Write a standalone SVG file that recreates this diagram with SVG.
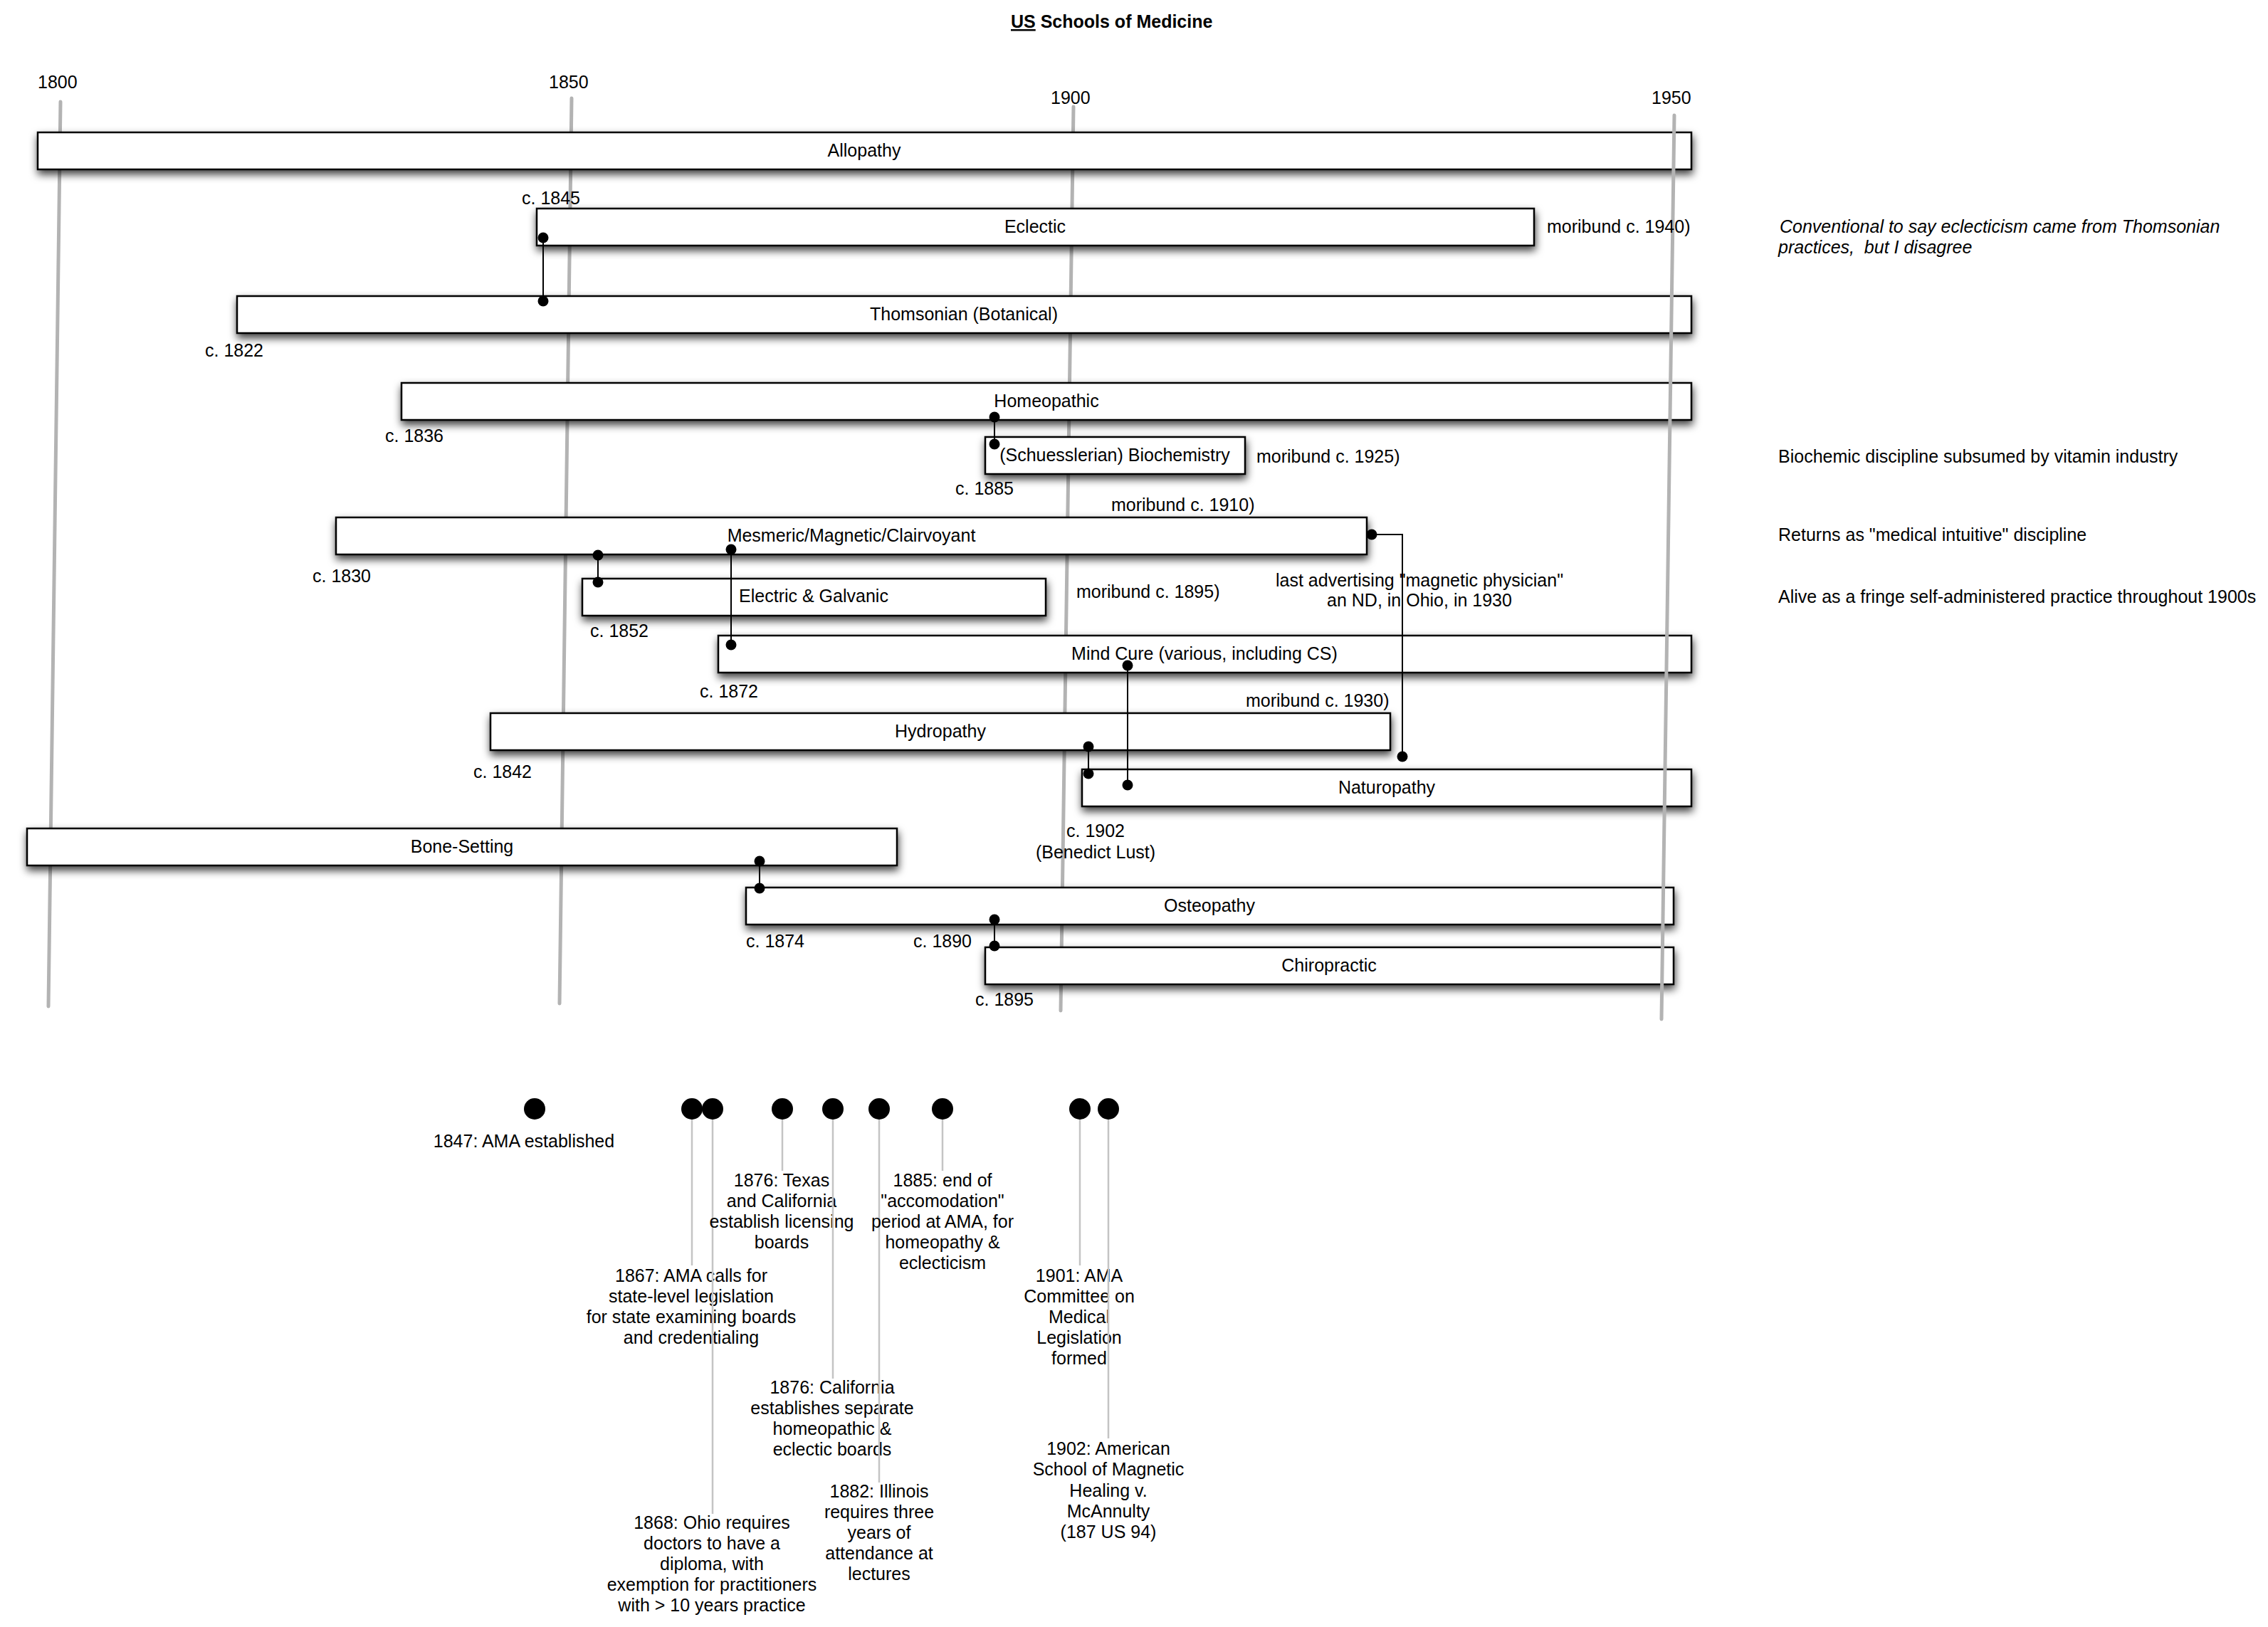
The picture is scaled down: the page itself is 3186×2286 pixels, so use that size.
<svg xmlns="http://www.w3.org/2000/svg" width="3186" height="2286" viewBox="0 0 3186 2286">
<defs>
<filter id="sh" x="-5%" y="-60%" width="110%" height="240%">
<feDropShadow dx="1" dy="6" stdDeviation="6" flood-color="#000" flood-opacity="0.75"/>
</filter>
<style>
.box{fill:#fff;stroke:#000;stroke-width:2.5;filter:url(#sh)}
.t{font-family:"Liberation Sans",Arial,Helvetica,sans-serif;font-size:25px;fill:#000}
.c{text-anchor:middle}
.i{font-style:italic}
.axis{stroke:#b3b3b3;stroke-width:5;stroke-linecap:round;fill:none}
.conn{stroke:#000;stroke-width:2;fill:none}
.dot{fill:#000}
.ev{stroke:#c4c4c4;stroke-width:2.5;fill:none}
</style>
</defs>
<rect x="0" y="0" width="3186" height="2286" fill="#fff"/>

<g id="title">
<text class="t" x="1420" y="39" font-weight="bold"><tspan text-decoration="underline">US</tspan> Schools of Medicine</text>
</g>

<g id="axis">
<line class="axis" x1="85" y1="143" x2="68" y2="1414"/>
<line class="axis" x1="803" y1="138" x2="786" y2="1410"/>
<line class="axis" x1="1508" y1="150" x2="1490" y2="1420"/>
<text class="t" x="53" y="124">1800</text>
<text class="t" x="771" y="124">1850</text>
<text class="t" x="1476" y="146">1900</text>
<text class="t" x="2320" y="146">1950</text>
</g>

<g id="n-allopathy"><rect class="box" x="53" y="186" width="2323" height="52"/><text class="t c" x="1214" y="220">Allopathy</text></g>
<g id="n-eclectic"><rect class="box" x="754" y="293" width="1401" height="52"/><text class="t c" x="1454" y="327">Eclectic</text></g>
<g id="n-thomsonian"><rect class="box" x="333" y="416" width="2043" height="52"/><text class="t c" x="1354" y="450">Thomsonian (Botanical)</text></g>
<g id="n-homeopathic"><rect class="box" x="564" y="538" width="1812" height="52"/><text class="t c" x="1470" y="572">Homeopathic</text></g>
<g id="n-biochemistry"><rect class="box" x="1384" y="614" width="365" height="52"/><text class="t c" x="1566" y="648">(Schuesslerian) Biochemistry</text></g>
<g id="n-mesmeric"><rect class="box" x="472" y="727" width="1448" height="52"/><text class="t c" x="1196" y="761">Mesmeric/Magnetic/Clairvoyant</text></g>
<g id="n-electric"><rect class="box" x="818" y="813" width="651" height="52"/><text class="t c" x="1143" y="846">Electric &amp; Galvanic</text></g>
<g id="n-mindcure"><rect class="box" x="1009" y="893" width="1367" height="52"/><text class="t c" x="1692" y="927">Mind Cure (various, including CS)</text></g>
<g id="n-hydropathy"><rect class="box" x="689" y="1002" width="1264" height="52"/><text class="t c" x="1321" y="1036">Hydropathy</text></g>
<g id="n-naturopathy"><rect class="box" x="1520" y="1081" width="856" height="52"/><text class="t c" x="1948" y="1115">Naturopathy</text></g>
<g id="n-bonesetting"><rect class="box" x="38" y="1164" width="1222" height="52"/><text class="t c" x="649" y="1198">Bone-Setting</text></g>
<g id="n-osteopathy"><rect class="box" x="1048" y="1247" width="1303" height="52"/><text class="t c" x="1699" y="1281">Osteopathy</text></g>
<g id="n-chiropractic"><rect class="box" x="1384" y="1331" width="967" height="52"/><text class="t c" x="1867" y="1365">Chiropractic</text></g>

<g id="axis-1950">
<line class="axis" x1="2352" y1="162" x2="2334" y2="1432"/>
</g>

<g id="connectors">
<path class="conn" d="M763 334V423"/><circle class="dot" cx="763" cy="334" r="7.5"/><circle class="dot" cx="763" cy="423" r="7.5"/>
<path class="conn" d="M1397 586V624"/><circle class="dot" cx="1397" cy="586" r="7.5"/><circle class="dot" cx="1397" cy="624" r="7.5"/>
<path class="conn" d="M840 780V818"/><circle class="dot" cx="840" cy="780" r="7.5"/><circle class="dot" cx="840" cy="818" r="7.5"/>
<path class="conn" d="M1027 772V906"/><circle class="dot" cx="1027" cy="772" r="7.5"/><circle class="dot" cx="1027" cy="906" r="7.5"/>
<path class="conn" d="M1584 935V1103"/><circle class="dot" cx="1584" cy="935" r="7.5"/><circle class="dot" cx="1584" cy="1103" r="7.5"/>
<path class="conn" d="M1529 1049V1087"/><circle class="dot" cx="1529" cy="1049" r="7.5"/><circle class="dot" cx="1529" cy="1087" r="7.5"/>
<path class="conn" d="M1927 751H1970V1063"/><circle class="dot" cx="1927" cy="751" r="7.5"/><circle class="dot" cx="1970" cy="1063" r="7.5"/>
<path class="conn" d="M1067 1210V1248"/><circle class="dot" cx="1067" cy="1210" r="7.5"/><circle class="dot" cx="1067" cy="1248" r="7.5"/>
<path class="conn" d="M1397 1292V1329"/><circle class="dot" cx="1397" cy="1292" r="7.5"/><circle class="dot" cx="1397" cy="1329" r="7.5"/>
</g>

<g id="labels">
<text class="t" x="733" y="287">c. 1845</text>
<text class="t" x="2173" y="327">moribund c. 1940)</text>
<text class="t i" x="2500" y="327">Conventional to say eclecticism came from Thomsonian</text>
<text class="t i" x="2498" y="356" xml:space="preserve">practices,  but I disagree</text>
<text class="t" x="288" y="501">c. 1822</text>
<text class="t" x="541" y="621">c. 1836</text>
<text class="t" x="1765" y="650">moribund c. 1925)</text>
<text class="t" x="2498" y="650">Biochemic discipline subsumed by vitamin industry</text>
<text class="t" x="1342" y="695">c. 1885</text>
<text class="t" x="1561" y="718">moribund c. 1910)</text>
<text class="t" x="2498" y="760">Returns as "medical intuitive" discipline</text>
<text class="t" x="439" y="818">c. 1830</text>
<text class="t" x="1512" y="840">moribund c. 1895)</text>
<text class="t c" x="1994" y="824">last advertising "magnetic physician"</text>
<text class="t c" x="1994" y="852">an ND, in Ohio, in 1930</text>
<text class="t" x="2498" y="847">Alive as a fringe self-administered practice throughout 1900s</text>
<text class="t" x="829" y="895">c. 1852</text>
<text class="t" x="983" y="980">c. 1872</text>
<text class="t" x="1750" y="993">moribund c. 1930)</text>
<text class="t" x="665" y="1093">c. 1842</text>
<text class="t c" x="1539" y="1176">c. 1902</text>
<text class="t c" x="1539" y="1206">(Benedict Lust)</text>
<text class="t" x="1048" y="1331">c. 1874</text>
<text class="t" x="1283" y="1331">c. 1890</text>
<text class="t" x="1370" y="1413">c. 1895</text>
</g>

<g id="events">
<g id="ev-1847"><circle class="dot" cx="751" cy="1558" r="15"/><text class="t c" x="736" y="1612">1847: AMA established</text></g>
<g id="ev-1867"><line class="ev" x1="972" y1="1570" x2="972" y2="1778"/><circle class="dot" cx="972" cy="1558" r="15"/>
<text class="t c" x="971" y="1801">1867: AMA calls for</text><text class="t c" x="971" y="1830">state-level legislation</text><text class="t c" x="971" y="1859">for state examining boards</text><text class="t c" x="971" y="1888">and credentialing</text></g>
<g id="ev-1868"><line class="ev" x1="1001" y1="1570" x2="1001" y2="2127"/><circle class="dot" cx="1001" cy="1558" r="15"/>
<text class="t c" x="1000" y="2148">1868: Ohio requires</text><text class="t c" x="1000" y="2177">doctors to have a</text><text class="t c" x="1000" y="2206">diploma, with</text><text class="t c" x="1000" y="2235">exemption for practitioners</text><text class="t c" x="1000" y="2264">with &gt; 10 years practice</text></g>
<g id="ev-1876a"><line class="ev" x1="1099" y1="1570" x2="1099" y2="1645"/><circle class="dot" cx="1099" cy="1558" r="15"/>
<text class="t c" x="1098" y="1667">1876: Texas</text><text class="t c" x="1098" y="1696">and California</text><text class="t c" x="1098" y="1725">establish licensing</text><text class="t c" x="1098" y="1754">boards</text></g>
<g id="ev-1876b"><line class="ev" x1="1170" y1="1570" x2="1170" y2="1937"/><circle class="dot" cx="1170" cy="1558" r="15"/>
<text class="t c" x="1169" y="1958">1876: California</text><text class="t c" x="1169" y="1987">establishes separate</text><text class="t c" x="1169" y="2016">homeopathic &amp;</text><text class="t c" x="1169" y="2045">eclectic boards</text></g>
<g id="ev-1882"><line class="ev" x1="1235" y1="1570" x2="1235" y2="2083"/><circle class="dot" cx="1235" cy="1558" r="15"/>
<text class="t c" x="1235" y="2104">1882: Illinois</text><text class="t c" x="1235" y="2133">requires three</text><text class="t c" x="1235" y="2162">years of</text><text class="t c" x="1235" y="2191">attendance at</text><text class="t c" x="1235" y="2220">lectures</text></g>
<g id="ev-1885"><line class="ev" x1="1324" y1="1570" x2="1324" y2="1645"/><circle class="dot" cx="1324" cy="1558" r="15"/>
<text class="t c" x="1324" y="1667">1885: end of</text><text class="t c" x="1324" y="1696">"accomodation"</text><text class="t c" x="1324" y="1725">period at AMA, for</text><text class="t c" x="1324" y="1754">homeopathy &amp;</text><text class="t c" x="1324" y="1783">eclecticism</text></g>
<g id="ev-1901"><line class="ev" x1="1517" y1="1570" x2="1517" y2="1778"/><circle class="dot" cx="1517" cy="1558" r="15"/>
<text class="t c" x="1516" y="1801">1901: AMA</text><text class="t c" x="1516" y="1830">Committee on</text><text class="t c" x="1516" y="1859">Medical</text><text class="t c" x="1516" y="1888">Legislation</text><text class="t c" x="1516" y="1917">formed</text></g>
<g id="ev-1902"><line class="ev" x1="1557" y1="1570" x2="1557" y2="2021"/><circle class="dot" cx="1557" cy="1558" r="15"/>
<text class="t c" x="1557" y="2044">1902: American</text><text class="t c" x="1557" y="2073">School of Magnetic</text><text class="t c" x="1557" y="2103">Healing v.</text><text class="t c" x="1557" y="2132">McAnnulty</text><text class="t c" x="1557" y="2161">(187 US 94)</text></g>
</g>
</svg>
